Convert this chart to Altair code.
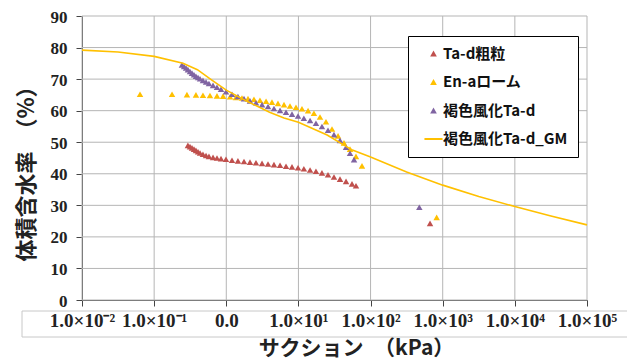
import json
import altair as alt
import pandas as pd

# ---------------- data ----------------
SERIES = ["Ta-d粗粒", "En-aローム", "褐色風化Ta-d", "褐色風化Ta-d_GM"]
COLORS = ["#C0504D", "#FFC000", "#8064A2", "#FFC000"]

red_x = [0.294, 0.314, 0.335, 0.357, 0.38, 0.406, 0.433, 0.475, 0.524, 0.575,
         0.655, 0.743, 0.845, 0.99, 1.2, 1.45, 1.76, 2.13, 2.58, 3.13, 3.79,
         4.58, 5.56, 6.73, 8.15, 9.87, 11.9, 14.5, 17.5, 21.2, 25.7, 31.1,
         37.7, 45.7, 55.3, 62.8, 667]
red_y = [49.0, 48.6, 48.2, 47.8, 47.4, 47.0, 46.6, 46.2, 45.8, 45.5,
         45.2, 45.0, 44.8, 44.6, 44.3, 44.1, 43.9, 43.7, 43.5, 43.3, 43.1,
         42.9, 42.7, 42.4, 42.2, 41.9, 41.6, 41.2, 40.8, 40.3, 39.7, 39.0,
         38.3, 37.6, 36.8, 36.2, 24.3]

yel_x = [0.0637, 0.177, 0.285, 0.38, 0.475, 0.594, 0.743, 0.902, 1.127, 1.36,
         1.65, 2.0, 2.42, 2.93, 3.56, 4.3, 5.21, 6.31, 7.64, 9.25, 11.2, 13.6,
         16.4, 19.9, 24.1, 29.2, 35.4, 42.8, 51.9, 62.8, 76.0, 824]
yel_y = [65.2, 65.2, 65.1, 65.0, 64.9, 64.8, 64.7, 64.6, 64.4, 64.2,
         64.0, 63.8, 63.6, 63.3, 63.0, 62.7, 62.3, 61.9, 61.5, 61.1, 60.6, 60.0,
         59.2, 58.0, 56.5, 54.2, 52.0, 49.8, 47.8, 45.5, 42.5, 26.2]

pur_x = [0.243, 0.26, 0.277, 0.294, 0.314, 0.335, 0.357, 0.38, 0.406, 0.433,
         0.475, 0.524, 0.575, 0.655, 0.743, 0.845, 0.99, 1.2, 1.45, 1.76, 2.13,
         2.58, 3.13, 3.79, 4.58, 5.56, 6.73, 8.15, 9.87, 11.9, 14.5, 17.5, 21.2,
         25.7, 31.1, 37.7, 45.7, 51.9, 59.0, 474]
pur_y = [74.5, 74.0, 73.5, 73.0, 72.4, 71.9, 71.4, 70.9, 70.5, 70.1,
         69.6, 69.1, 68.6, 68.0, 67.4, 66.8, 66.0, 65.2, 64.5, 63.8, 63.1,
         62.5, 61.9, 61.3, 60.7, 60.1, 59.5, 58.9, 58.3, 57.6, 56.9, 56.0, 55.0,
         53.8, 52.4, 50.6, 48.4, 46.5, 44.5, 29.4]

gm_x = [0.01, 0.0316, 0.1, 0.251, 0.398, 0.631, 1, 2.0, 3.98, 6.31, 10, 25,
        56, 100, 316, 1000, 3162, 10000, 31623, 100000]
gm_y = [79.2, 78.6, 77.2, 75.0, 73.0, 69.7, 66.5, 62.8, 59.5, 57.7, 56.3, 52.3,
        47.5, 45.3, 40.6, 36.4, 32.8, 29.6, 26.6, 23.8]

X_TICKS = [0.01, 0.1, 1, 10, 100, 1000, 10000, 100000]
X_LABELS = ["1.0×10⁻²", "1.0×10⁻¹", "0.0", "1.0×10¹", "1.0×10²",
            "1.0×10³", "1.0×10⁴", "1.0×10⁵"]
Y_TICKS = [0, 10, 20, 30, 40, 50, 60, 70, 80, 90]

# ---------------- tables ----------------
pts = pd.concat([
    pd.DataFrame({"x": red_x, "y": red_y, "s": SERIES[0]}),
    pd.DataFrame({"x": yel_x, "y": yel_y, "s": SERIES[1]}),
    pd.DataFrame({"x": pur_x, "y": pur_y, "s": SERIES[2]}),
], ignore_index=True)
pts["o"] = range(len(pts))
gm = pd.DataFrame({"x": gm_x, "y": gm_y})
xg = pd.DataFrame({"x": X_TICKS})
yg = pd.DataFrame({"y": Y_TICKS})

SERIF = "Liberation Serif"
CJK = "Noto Sans CJK JP"
GRID = "#b5b5b5"
label_expr = json.dumps(X_LABELS, ensure_ascii=False) + "[round(log(datum.value)/LN10)+2]"

xscale = alt.Scale(type="log", domain=[0.01, 100000], nice=False)
yscale = alt.Scale(domain=[0, 90], nice=False, zero=True)

xaxis = alt.Axis(
    values=X_TICKS, labelExpr=label_expr, labelFont=SERIF, labelFontSize=19,
    labelFontWeight="bold", labelColor="#222", labelPadding=5,
    labelOverlap=False, grid=False,
    tickSize=6, tickColor="#444", domainColor="#444",
    title="サクション　（kPa）", titleFont=CJK, titleFontSize=21,
    titleFontWeight="bold", titleColor="#222", titleX=274, titleY=48,
    titleAlign="center", titleBaseline="middle", labelFlush=False,
)
yaxis = alt.Axis(
    values=Y_TICKS, labelFont=SERIF, labelFontSize=17, labelFontWeight="bold",
    labelColor="#222", labelPadding=9, labelOffset=1, tickSize=6, tickColor="#444",
    labelOverlap=False, grid=False,
    domainColor="#444",
    title="体積含水率　（%）", titleFont=CJK, titleFontSize=22,
    titleFontWeight="bold", titleColor="#222", titleX=-56, titleY=152,
    titleAngle=270, titleAlign="center", titleBaseline="middle",
)

vgrid = alt.Chart(xg).mark_rule(color=GRID, strokeWidth=1, opacity=1).encode(
    x=alt.X("x:Q", scale=xscale, axis=xaxis))
hgrid = alt.Chart(yg).mark_rule(color=GRID, strokeWidth=1, opacity=1).encode(
    y=alt.Y("y:Q", scale=yscale, axis=yaxis))

line_shape = "M-2.7,-0.3H2.7V0.3H-2.7Z"
leg = alt.Legend(title=None, orient="none", legendX=326, legendY=20)

points = alt.Chart(pts).mark_point(filled=True, opacity=1, size=42).encode(
    x=alt.X("x:Q", scale=xscale, axis=xaxis),
    y=alt.Y("y:Q", scale=yscale, axis=yaxis),
    color=alt.Color("s:N", scale=alt.Scale(domain=SERIES, range=COLORS), legend=leg),
    shape=alt.Shape("s:N", scale=alt.Scale(
        domain=SERIES,
        range=["triangle-up", "triangle-up", "triangle-up", line_shape]),
        legend=leg),
    order="o:Q",
)

line = alt.Chart(gm).mark_line(color="#FFC000", strokeWidth=1.6).encode(
    x=alt.X("x:Q", scale=xscale, axis=xaxis),
    y=alt.Y("y:Q", scale=yscale, axis=yaxis),
)

box = alt.Chart(pd.DataFrame({"k": [0]})).mark_rect(
    fill="white", fillOpacity=0, stroke="#c8c8c8", strokeWidth=1
).encode(x=alt.value(-60), x2=alt.value(552), y=alt.value(295), y2=alt.value(321))

chart = alt.layer(vgrid, hgrid, points, line, box).properties(
    width=505, height=284,
    autosize=alt.AutoSizeParams(type="none"),
    padding={"left": 74, "top": 8, "right": 40, "bottom": 60},
).configure_view(stroke=None).configure_legend(
    strokeColor="black", fillColor="white", padding=10,
    labelFont=CJK, labelFontSize=15, labelFontWeight="bold", labelColor="#111",
    symbolSize=45, rowPadding=12.5, labelOffset=2, symbolOffset=8,
    symbolStrokeWidth=0,
)

chart.save("out.html", embed_options={"renderer": "svg", "actions": False})
